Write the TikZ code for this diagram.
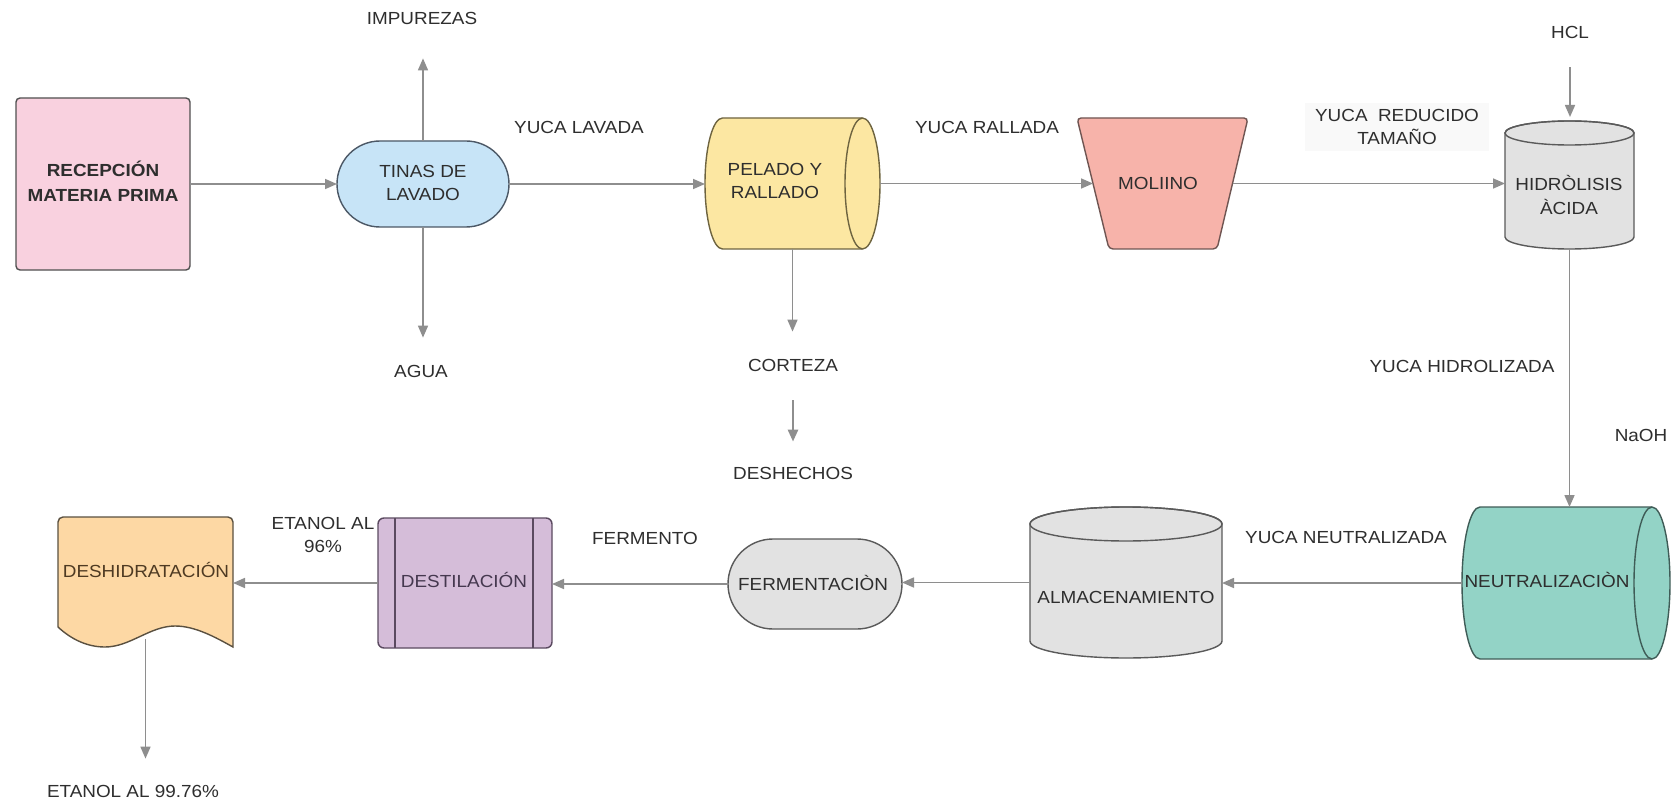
\documentclass[tikz,border=0pt]{standalone}
\usepackage{fontspec}
\setmainfont{Liberation Sans}[FakeStretch=1.08]
\usetikzlibrary{arrows.meta}
\definecolor{arrc}{HTML}{8E8E8E}
\definecolor{txtc}{HTML}{2E2E2E}
\definecolor{recf}{HTML}{F9D1DF}\definecolor{recd}{HTML}{505050}
\definecolor{tinf}{HTML}{C7E4F7}\definecolor{tind}{HTML}{4C5866}
\definecolor{pelf}{HTML}{FCE7A2}\definecolor{peld}{HTML}{6E6440}
\definecolor{molf}{HTML}{F7B3AA}\definecolor{mold}{HTML}{6F5552}
\definecolor{grayf}{HTML}{E2E2E2}\definecolor{grayd}{HTML}{5A5A5A}
\definecolor{neuf}{HTML}{93D3C6}\definecolor{neud}{HTML}{3F5C57}
\definecolor{destf}{HTML}{D5BDD9}\definecolor{destd}{HTML}{5B4A60}
\definecolor{deshf}{HTML}{FDD8A4}\definecolor{deshd}{HTML}{5A5040}
\definecolor{deshtxt}{HTML}{4E3A22}\definecolor{desttxt}{HTML}{45384F}
\definecolor{lblbg}{HTML}{F9F9F9}
\begin{document}
\begin{tikzpicture}[x=1pt,y=-1pt,
  holder/.style={inner sep=0pt,outer sep=0pt,draw=none},
  txt/.style={font=\fontsize{17.5}{23.5}\selectfont,align=center,text=txtc,inner sep=0pt},
  lbl/.style={txt},
  shp/.style={line width=1.4pt},
  arr/.style={draw=arrc,line width=1.6pt,-{Triangle[length=12pt,width=10pt]}}]
\useasboundingbox[fill=white] (0,0) rectangle (1671,805);
% ---- shapes ----
\draw[shp,fill=recf,draw=recd,rounded corners=4pt] (16,98) rectangle (190,270);
\draw[shp,fill=tinf,draw=tind,rounded corners=43pt] (337,141) rectangle (509,227);
% pelado (horizontal cylinder)
\draw[shp,fill=pelf,draw=peld] (722.5,118) -- (862.5,118) arc(-90:90:17.5 and 65.5) -- (722.5,249) arc(90:270:17.5 and 65.5) -- cycle;
\draw[shp,draw=peld] (862.5,249) arc(90:270:17.5 and 65.5);
% molino
\draw[shp,fill=molf,draw=mold,rounded corners=4pt] (1077,118) -- (1248,118) -- (1217,249) -- (1109,249) -- cycle;
% hidrolisis (vertical cylinder)
\draw[shp,fill=grayf,draw=grayd] (1505,133) -- (1505,237) arc(180:0:64.5 and 12) -- (1634,133) arc(0:-180:64.5 and 12) -- cycle;
\draw[shp,draw=grayd] (1569.5,133) ellipse (64.5 and 12);
% neutralizacion (horizontal cylinder)
\draw[shp,fill=neuf,draw=neud] (1480,507) -- (1652,507) arc(-90:90:18 and 76) -- (1480,659) arc(90:270:18 and 76) -- cycle;
\draw[shp,draw=neud] (1652,659) arc(90:270:18 and 76);
% almacenamiento (vertical cylinder)
\draw[shp,fill=grayf,draw=grayd] (1030,524) -- (1030,641) arc(180:0:96 and 17) -- (1222,524) arc(0:-180:96 and 17) -- cycle;
\draw[shp,draw=grayd] (1126,524) ellipse (96 and 17);
% fermentacion
\draw[shp,fill=grayf,draw=grayd,rounded corners=45pt] (728,539) rectangle (902,629);
% destilacion
\draw[shp,fill=destf,draw=destd,rounded corners=6pt] (378,518) rectangle (552,648);
\draw[shp,draw=destd] (395,518) -- (395,648) (533,518) -- (533,648);
% deshidratacion (document)
\draw[shp,fill=deshf,draw=deshd] (58,627) [rounded corners=5pt] -- (58,517) -- (233,517) [sharp corners] -- (233,647) .. controls (215,637) and (195,626) .. (175,626) .. controls (150,626) and (130,647) .. (105,647) .. controls (88,647) and (72,640) .. (58,627) -- cycle;
% ---- holder nodes ----
\node[holder,minimum width=174pt,minimum height=172pt] (rec) at (103,184) {};
\node[holder,minimum width=172pt,minimum height=86pt] (tin) at (423,184) {};
\node[holder,minimum width=175pt,minimum height=131pt] (pel) at (792.5,183.5) {};
\node[holder,minimum width=140pt,minimum height=131pt] (mol) at (1163,183.5) {};
\node[holder,minimum width=129pt,minimum height=128pt] (hid) at (1569.5,185) {};
\node[holder,minimum width=208pt,minimum height=152pt] (neu) at (1566,583) {};
\node[holder,minimum width=192pt,minimum height=151pt] (alm) at (1126,582.5) {};
\node[holder,minimum width=174pt,minimum height=90pt] (fer) at (815,584) {};
\node[holder,minimum width=174pt,minimum height=130pt] (dest) at (465,583) {};
\node[holder,minimum width=175pt,minimum height=122pt] (desh) at (145.5,578) {};
% ---- shape texts ----
\node[txt,font=\fontsize{17.5}{25}\selectfont\bfseries] (recT) at (103,181) {RECEPCIÓN\\MATERIA PRIMA};
\node[txt] (tinT) at (423,183) {TINAS DE\\LAVADO};
\node[txt] (pelT) at (775,181) {PELADO Y\\RALLADO};
\node[txt] (molT) at (1158,183) {MOLIINO};
\node[txt] (hidT) at (1569,195) {HIDRÒLISIS\\ÀCIDA};
\node[txt] (neuT) at (1547,580) {NEUTRALIZACIÒN};
\node[txt] (almT) at (1126,597) {ALMACENAMIENTO};
\node[txt] (ferT) at (813,583) {FERMENTACIÒN};
\node[txt,text=desttxt] (destT) at (464,580) {DESTILACIÓN};
\node[txt,text=deshtxt] (deshT) at (146,570) {DESHIDRATACIÓN};
% ---- labels ----
\node[lbl] (imp) at (422,18) {IMPUREZAS};
\node[lbl] (agua) at (421,371) {AGUA};
\node[lbl] (yl) at (579,127) {YUCA LAVADA};
\node[lbl] (cor) at (793,365) {CORTEZA};
\node[lbl] (dsc) at (793,473) {DESHECHOS};
\node[lbl] (yr) at (987,127) {YUCA RALLADA};
\node[lbl,fill=lblbg,inner xsep=10pt,inner ysep=6pt] (yrt) at (1397,127) {YUCA\ \ REDUCIDO\\TAMAÑO};
\node[lbl] (hcl) at (1570,32) {HCL};
\node[lbl] (yh) at (1462,366) {YUCA HIDROLIZADA};
\node[lbl] (naoh) at (1641,435) {NaOH};
\node[lbl] (yn) at (1346,537) {YUCA NEUTRALIZADA};
\node[lbl] (ferm) at (645,538) {FERMENTO};
\node[lbl] (e96) at (323,535) {ETANOL AL\\96\%};
\node[lbl] (e99) at (133,791) {ETANOL AL 99.76\%};
% ---- connectors ----
\draw[arr] (rec.east) -- (rec.east -| tin.west);
\draw[arr,shorten >=34pt] (tin.north) -- (tin.north |- imp.south);
\draw[arr,shorten >=27pt] (tin.south) -- (tin.south |- agua.north);
\draw[arr] (tin.east) -- (tin.east -| pel.west);
\draw[arr,shorten >=27pt] (pel.south) -- (pel.south |- cor.north);
\draw[arr,line width=2.6pt,shorten <=29pt,shorten >=25pt] (cor.south) -- (cor.south |- dsc.north);
\draw[arr] (pel.east) -- (pel.east -| mol.west);
\draw[arr] (mol.east) -- (mol.east -| hid.west);
\draw[arr,shorten <=29pt,shorten >=4pt] (hcl.south) -- (hcl.south |- hid.north);
\draw[arr] (hid.south) -- (hid.south |- neu.north);
\draw[arr] (neu.west) -- (neu.west -| alm.east);
\draw[arr] (alm.west) -- (alm.west -| fer.east);
\draw[arr] (fer.west) -- (fer.west -| dest.east);
\draw[arr] (dest.west) -- (dest.west -| desh.east);
\draw[arr,shorten >=26pt] (desh.south) -- (desh.south |- e99.north);
\end{tikzpicture}
\end{document}
